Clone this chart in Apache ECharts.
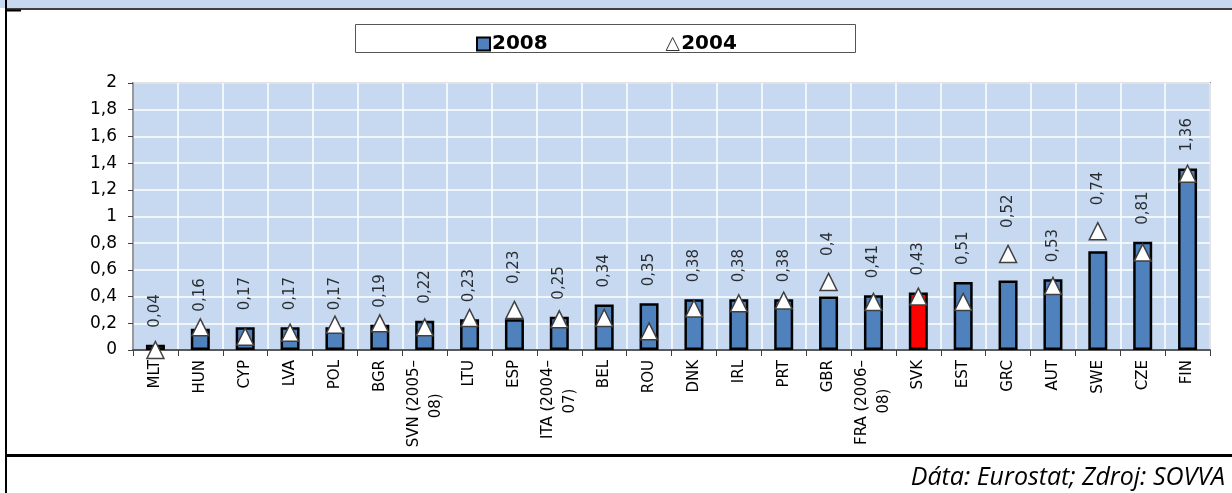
<!DOCTYPE html>
<html>
<head>
<meta charset="utf-8">
<script src="https://cdn.jsdelivr.net/npm/echarts@6/dist/echarts.min.js"></script>
<style>
	html, body { margin: 0; padding: 0; background: #fff; }
	#chart { width: 1232px; height: 493px; }
</style>
</head>
<body>
<div id="chart"></div>
<script type="text/javascript">
    // krajiny (os x)
    var countries = ['MLT', 'HUN', 'CYP', 'LVA', 'POL', 'BGR', 'SVN (2005–\n08)', 'LTU', 'ESP', 'ITA (2004–\n07)',
        'BEL', 'ROU', 'DNK', 'IRL', 'PRT', 'GBR', 'FRA (2006–\n08)', 'SVK', 'EST', 'GRC', 'AUT', 'SWE', 'CZE', 'FIN'];
    // hodnoty 2008 (stlpce)
    var values2008 = [0.04, 0.16, 0.17, 0.17, 0.17, 0.19, 0.22, 0.23, 0.23, 0.25,
        0.34, 0.35, 0.38, 0.38, 0.38, 0.4, 0.41, 0.43, 0.51, 0.52, 0.53, 0.74, 0.81, 1.36];
    // hodnoty 2004 (trojuholniky)
    var values2004 = [0.00, 0.17, 0.10, 0.13, 0.19, 0.20, 0.17, 0.24, 0.30, 0.23,
        0.24, 0.14, 0.31, 0.35, 0.37, 0.51, 0.36, 0.40, 0.36, 0.72, 0.48, 0.89, 0.73, 1.32];
    var yTicks = [0, 0.2, 0.4, 0.6, 0.8, 1, 1.2, 1.4, 1.6, 1.8, 2];
    var highlight = 'SVK';

    var xFont = '15px "DejaVu Sans"';

    function comma(v) {
        return String(Math.round(v * 100) / 100).replace('.', ',');
    }

    // druhy riadok popisku vycentrovat (popisky su zarovnane doprava)
    var ctx = document.createElement('canvas').getContext('2d');
    ctx.font = xFont;
    function centerLines(name) {
        var lines = name.split('\n');
        if (lines.length < 2) return name;
        var w0 = ctx.measureText(lines[0]).width;
        var sp = ctx.measureText('\u00a0').width;
        return lines.map(function (s, k) {
            if (k === 0) return s;
            var pad = Math.round((w0 - ctx.measureText(s).width) / 2 / sp);
            return s + new Array(pad + 1).join('\u00a0');
        }).join('\n');
    }

    var barData = values2008.map(function (v, i) {
        if (countries[i] === highlight) {
            return {value: v, itemStyle: {color: '#ff0000'}};
        }
        return v;
    });

    // popisky: nad stlpcom, alebo nad trojuholnikom ak vycnieva
    var labelData = values2008.map(function (v, i) {
        var tri = values2004[i] - v > 0.05;
        return {
            value: tri ? values2004[i] : v,
            label: {distance: tri ? 26 : 17},
            v2008: v
        };
    });

    var myChart = echarts.init(document.getElementById('chart'), null, {renderer: 'canvas'});
    var option = {
        animation: false,
        backgroundColor: '#ffffff',
        graphic: [
            {type: 'rect', shape: {x: 0, y: 0, width: 1232, height: 8}, style: {fill: '#c6d9f0'}},
            {type: 'line', shape: {x1: 7, y1: 9, x2: 1232, y2: 9}, style: {stroke: '#000', lineWidth: 1.5}},
            {type: 'line', shape: {x1: 6, y1: 0, x2: 6, y2: 493}, style: {stroke: '#000', lineWidth: 2}},
            {type: 'line', shape: {x1: 7, y1: 10.5, x2: 21, y2: 10.5}, style: {stroke: '#000', lineWidth: 2}},
            {type: 'line', shape: {x1: 7, y1: 455.5, x2: 1232, y2: 455.5}, style: {stroke: '#000', lineWidth: 3}},
            {type: 'rect', shape: {x: 355.5, y: 24.5, width: 500, height: 28}, style: {fill: '#fff', stroke: '#555', lineWidth: 1}, z: -1},
            {
                type: 'text', right: 7, top: 465,
                style: {
                    text: 'Dáta: Eurostat; Zdroj: SOVVA',
                    font: 'italic 25px "Open Sans"', fill: '#000'
                }
            }
        ],
        legend: {
            left: 471, top: 29,
            itemGap: 118,
            itemWidth: 13, itemHeight: 13,
            textStyle: {fontFamily: 'DejaVu Sans', fontWeight: 'bold', fontSize: 20, color: '#000', padding: [0, 0, 0, -3]},
            data: [
                {name: '2008', icon: 'rect', itemStyle: {color: '#4f81bd', borderColor: '#000', borderWidth: 2}},
                {name: '2004', icon: 'triangle', itemStyle: {color: '#fff', borderColor: '#333', borderWidth: 1}}
            ]
        },
        grid: {
            left: 133, right: 22, top: 83, bottom: 143,
            show: true, backgroundColor: '#c6d9f0',
            borderColor: '#8c8c8c', borderWidth: 2,
            outerBoundsMode: 'none'
        },
        xAxis: {
            type: 'category',
            data: countries,
            boundaryGap: true,
            axisLine: {lineStyle: {color: '#595959', width: 2}},
            axisTick: {show: true, length: 6, lineStyle: {color: '#404040', width: 1}},
            splitLine: {show: true, lineStyle: {color: '#ffffff', width: 1.5}},
            axisLabel: {
                interval: 0, rotate: 90, margin: 10,
                color: '#000', fontFamily: 'DejaVu Sans', fontSize: 15, lineHeight: 22,
                formatter: centerLines
            }
        },
        yAxis: {
            type: 'value',
            min: 0, max: 2, interval: 0.2,
            axisLine: {show: true, lineStyle: {color: '#808080', width: 1.5}},
            axisTick: {show: true, length: 5, lineStyle: {color: '#404040'}},
            splitLine: {show: true, lineStyle: {color: '#ffffff', width: 1.5}},
            axisLabel: {
                margin: 16, color: '#000', fontFamily: 'DejaVu Sans', fontSize: 17,
                formatter: function (v) {
                    var t = yTicks.filter(function (x) { return Math.abs(x - v) < 1e-6; });
                    return t.length ? comma(t[0]) : '';
                }
            }
        },
        series: [
            {
                name: '2008',
                type: 'bar',
                data: barData,
                barWidth: 19,
                itemStyle: {color: '#4f81bd', borderColor: '#000', borderWidth: 2.5},
                z: 2
            },
            {
                name: '2004',
                type: 'scatter',
                data: values2004,
                symbol: 'triangle',
                symbolSize: [17, 17],
                itemStyle: {color: '#fff', borderColor: '#404040', borderWidth: 1.5, opacity: 1},
                clip: false,
                z: 5
            },
            {
                name: 'popisky',
                type: 'scatter',
                data: labelData,
                symbolSize: 0,
                itemStyle: {color: 'transparent'},
                silent: true,
                clip: false,
                z: 6,
                label: {
                    show: true, position: 'top', rotate: 90,
                    align: 'left', verticalAlign: 'middle',
                    fontFamily: 'DejaVu Sans', fontSize: 15, color: '#000',
                    formatter: function (p) { return comma(p.data.v2008); }
                }
            }
        ]
    };
    myChart.setOption(option);
</script>
</body>
</html>
